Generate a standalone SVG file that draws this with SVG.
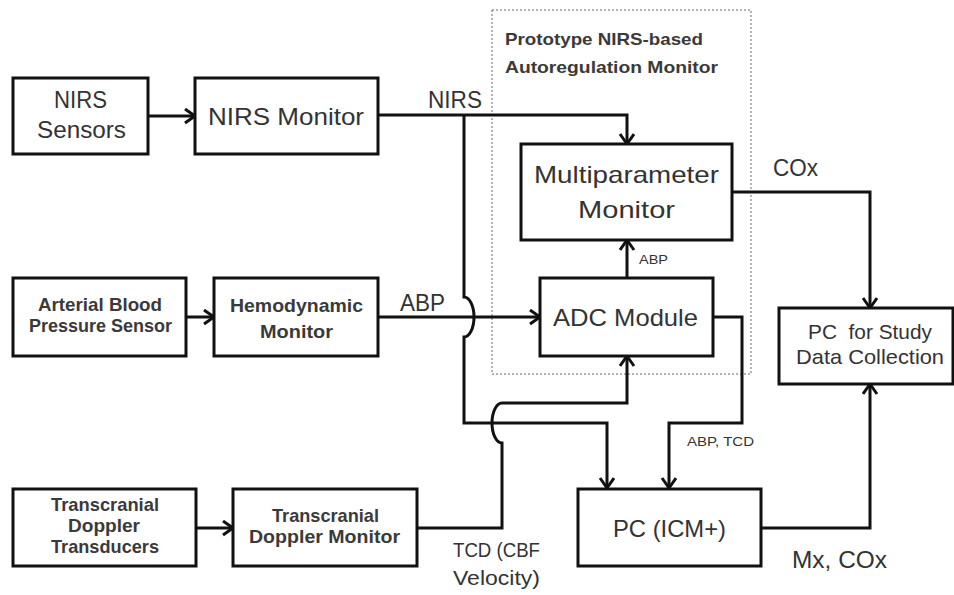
<svg xmlns="http://www.w3.org/2000/svg" width="954" height="595" viewBox="0 0 954 595">
  <defs>
    <style>
      .box { fill: #ffffff; stroke: #111111; stroke-width: 3; }
      .wire { fill: none; stroke: #111111; stroke-width: 3; stroke-linejoin: miter; }
      .group { fill: none; stroke: #666666; stroke-width: 1; stroke-dasharray: 2 2; }
      text { font-family: "Liberation Sans", Arial, sans-serif; fill: #333333; }
      .big { font-size: 24px; }
      .mid { font-size: 21px; }
      .bold { font-size: 19px; font-weight: bold; fill: #3a3a3a; }
      .title { font-size: 17px; font-weight: bold; fill: #3a3a3a; }
      .small { font-size: 13px; }
    </style>
    <marker id="arrow" markerUnits="userSpaceOnUse" markerWidth="16" markerHeight="18" refX="12" refY="8" orient="auto">
      <path d="M2,1 L12,8 L2,15" fill="none" stroke="#111111" stroke-width="3"/>
    </marker>
  </defs>
  <rect width="954" height="595" fill="#ffffff"/>

  <g id="prototype-group">
    <rect class="group" x="492" y="10" width="259" height="364"/>
    <text class="title" x="505" y="45" textLength="198" lengthAdjust="spacingAndGlyphs">Prototype NIRS-based</text>
    <text class="title" x="505" y="73" textLength="213" lengthAdjust="spacingAndGlyphs">Autoregulation Monitor</text>
  </g>

  <g id="connectors">
    <path class="wire" d="M148,116 H195" marker-end="url(#arrow)"/>
    <path class="wire" d="M378,115 H627 V144" marker-end="url(#arrow)"/>
    <path class="wire" d="M464,115 V297 A10,20 0 0 1 464,337 V423 H607 V488" marker-end="url(#arrow)"/>
    <path class="wire" d="M186,317 H214" marker-end="url(#arrow)"/>
    <path class="wire" d="M378,317 H540" marker-end="url(#arrow)"/>
    <path class="wire" d="M627,278 V240" marker-end="url(#arrow)"/>
    <path class="wire" d="M713,317 H742 V423 H669 V488" marker-end="url(#arrow)"/>
    <path class="wire" d="M732,192 H870 V308" marker-end="url(#arrow)"/>
    <path class="wire" d="M761,528 H870 V384" marker-end="url(#arrow)"/>
    <path class="wire" d="M196,528 H233" marker-end="url(#arrow)"/>
    <path class="wire" d="M417,528 H502 V443 A10,20 0 0 1 502,403 H627 V356" marker-end="url(#arrow)"/>
    <text class="big" x="428" y="108" textLength="54" lengthAdjust="spacingAndGlyphs">NIRS</text>
    <text class="big" x="773" y="176" textLength="45" lengthAdjust="spacingAndGlyphs">COx</text>
    <text class="small" x="639" y="264" textLength="29" lengthAdjust="spacingAndGlyphs">ABP</text>
    <text class="big" x="400" y="311" textLength="45" lengthAdjust="spacingAndGlyphs">ABP</text>
    <text class="small" x="687" y="446" textLength="67" lengthAdjust="spacingAndGlyphs">ABP, TCD</text>
    <text class="mid" x="453" y="557" textLength="87" lengthAdjust="spacingAndGlyphs">TCD (CBF</text>
    <text class="mid" x="453" y="585" textLength="87" lengthAdjust="spacingAndGlyphs">Velocity)</text>
    <text class="big" x="792" y="568" textLength="95" lengthAdjust="spacingAndGlyphs">Mx, COx</text>
  </g>

  <g id="nirs-sensors">
    <rect class="box" x="13" y="78" width="135" height="76"/>
    <text class="big" x="54" y="108" textLength="53" lengthAdjust="spacingAndGlyphs">NIRS</text>
    <text class="big" x="37" y="138" textLength="89" lengthAdjust="spacingAndGlyphs">Sensors</text>
  </g>

  <g id="nirs-monitor">
    <rect class="box" x="195" y="78" width="183" height="76"/>
    <text class="big" x="208" y="125" textLength="156" lengthAdjust="spacingAndGlyphs">NIRS Monitor</text>
  </g>

  <g id="multiparameter-monitor">
    <rect class="box" x="521" y="144" width="211" height="96"/>
    <text class="big" x="534" y="183" textLength="185" lengthAdjust="spacingAndGlyphs">Multiparameter</text>
    <text class="big" x="578" y="218" textLength="97" lengthAdjust="spacingAndGlyphs">Monitor</text>
  </g>

  <g id="adc-module">
    <rect class="box" x="540" y="278" width="173" height="78"/>
    <text class="big" x="553" y="326" textLength="145" lengthAdjust="spacingAndGlyphs">ADC Module</text>
  </g>

  <g id="arterial-sensor">
    <rect class="box" x="13" y="278" width="173" height="78"/>
    <text class="bold" x="38" y="311" textLength="124" lengthAdjust="spacingAndGlyphs">Arterial Blood</text>
    <text class="bold" x="29" y="332" textLength="143" lengthAdjust="spacingAndGlyphs">Pressure Sensor</text>
  </g>

  <g id="hemodynamic-monitor">
    <rect class="box" x="214" y="278" width="164" height="78"/>
    <text class="bold" x="230" y="312" textLength="133" lengthAdjust="spacingAndGlyphs">Hemodynamic</text>
    <text class="bold" x="260" y="338" textLength="73" lengthAdjust="spacingAndGlyphs">Monitor</text>
  </g>

  <g id="pc-study">
    <rect class="box" x="779" y="308" width="174" height="76"/>
    <text class="mid" x="808" y="339" textLength="124" lengthAdjust="spacingAndGlyphs" xml:space="preserve">PC  for Study</text>
    <text class="mid" x="796" y="364" textLength="148" lengthAdjust="spacingAndGlyphs">Data Collection</text>
  </g>

  <g id="tcd-transducers">
    <rect class="box" x="13" y="489" width="183" height="77"/>
    <text class="bold" x="51" y="511" textLength="108" lengthAdjust="spacingAndGlyphs">Transcranial</text>
    <text class="bold" x="68" y="532" textLength="72" lengthAdjust="spacingAndGlyphs">Doppler</text>
    <text class="bold" x="51" y="553" textLength="108" lengthAdjust="spacingAndGlyphs">Transducers</text>
  </g>

  <g id="tcd-monitor">
    <rect class="box" x="233" y="489" width="184" height="77"/>
    <text class="bold" x="272" y="522" textLength="107" lengthAdjust="spacingAndGlyphs">Transcranial</text>
    <text class="bold" x="249" y="543" textLength="151" lengthAdjust="spacingAndGlyphs">Doppler Monitor</text>
  </g>

  <g id="pc-icm">
    <rect class="box" x="578" y="489" width="183" height="77"/>
    <text class="big" x="613" y="537" textLength="113" lengthAdjust="spacingAndGlyphs">PC (ICM+)</text>
  </g>
</svg>
